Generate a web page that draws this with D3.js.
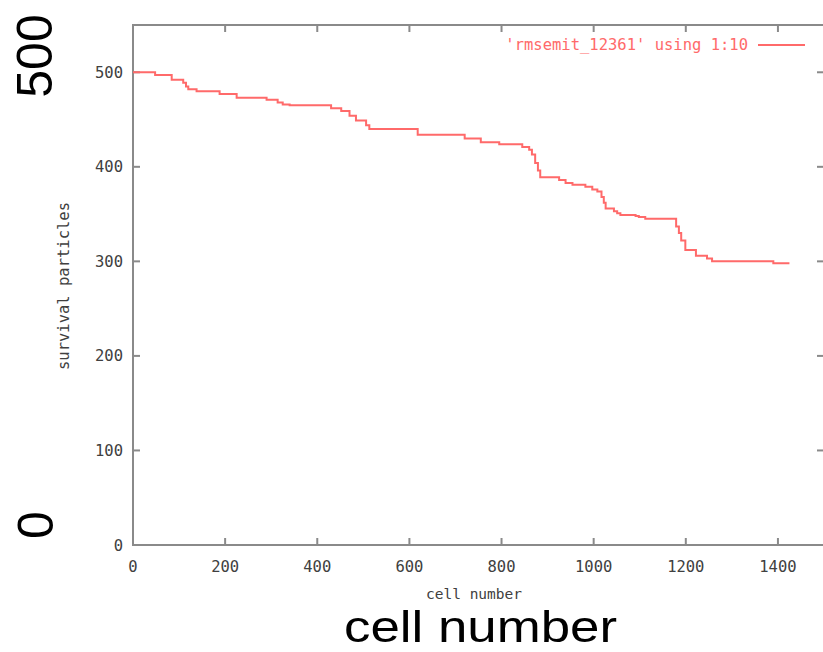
<!DOCTYPE html>
<html>
<head>
<meta charset="utf-8">
<script src="https://cdn.jsdelivr.net/npm/d3@7"></script>
<style>
  body { margin: 0; background: #fff; }
  svg { display: block; }
</style>
</head>
<body>
<div id="chart"></div>
<script>
// survival particles vs cell number (step data, value holds until next cell)
var cells = [0, 48, 84, 109, 115, 120, 138, 188, 225, 290, 314, 325, 340, 430, 452, 470, 484, 506, 513,
  618, 720, 755, 795, 845, 860, 866, 873, 879, 884, 925, 939, 954, 982, 997, 1008, 1017, 1022, 1026,
  1044, 1051, 1058, 1091, 1098, 1112, 1179, 1185, 1190, 1199, 1222, 1246, 1257, 1390, 1425];
var particles = [500, 497, 492, 489, 485, 482, 480, 477, 473, 471, 468, 466, 465, 462, 459, 454, 449, 444, 440,
  434, 430, 426, 424, 421, 418, 413, 404, 396, 389, 386, 383, 381, 379, 376, 374, 368, 362, 356,
  353, 351, 349, 348, 347, 345, 337, 330, 322, 312, 306, 303, 300, 298, 298];
var xTicks = [0, 200, 400, 600, 800, 1000, 1200, 1400];
var yTicks = [0, 100, 200, 300, 400, 500];
var legendLabel = "'rmsemit_12361' using 1:10";

var W = 823, H = 652;
var margin = { top: 25, right: -1, bottom: 107, left: 133 },
    width = W - margin.left - margin.right,
    height = H - margin.top - margin.bottom;

var x = d3.scaleLinear().domain([0, 1500]).range([0, width]);
var y = d3.scaleLinear().domain([0, 550]).range([height, 0]);

var svg = d3.select("#chart").append("svg")
    .attr("width", W)
    .attr("height", H);

var g = svg.append("g")
    .attr("transform", "translate(" + margin.left + "," + margin.top + ")");

var mono = "'DejaVu Sans Mono', 'Liberation Mono', monospace";
var frameColor = "#8a8a8a";
var textColor = "#404040";
var lineColor = "#ff6a6a";

// ticks mirrored on all four sides, pointing inward
var tk = 7;
g.append("g").selectAll("line").data(xTicks).enter().append("line")
    .attr("x1", function (d) { return x(d); }).attr("x2", function (d) { return x(d); })
    .attr("y1", height).attr("y2", height - tk)
    .attr("stroke", frameColor).attr("stroke-width", 2);
g.append("g").selectAll("line").data(xTicks).enter().append("line")
    .attr("x1", function (d) { return x(d); }).attr("x2", function (d) { return x(d); })
    .attr("y1", 0).attr("y2", tk)
    .attr("stroke", frameColor).attr("stroke-width", 2);
g.append("g").selectAll("line").data(yTicks).enter().append("line")
    .attr("x1", 0).attr("x2", tk)
    .attr("y1", function (d) { return y(d); }).attr("y2", function (d) { return y(d); })
    .attr("stroke", frameColor).attr("stroke-width", 2);
g.append("g").selectAll("line").data(yTicks).enter().append("line")
    .attr("x1", width).attr("x2", width - tk)
    .attr("y1", function (d) { return y(d); }).attr("y2", function (d) { return y(d); })
    .attr("stroke", frameColor).attr("stroke-width", 2);

// frame
g.append("rect")
    .attr("x", 0).attr("y", 0)
    .attr("width", width).attr("height", height)
    .attr("fill", "none")
    .attr("stroke", frameColor)
    .attr("stroke-width", 2);

// tick labels
g.append("g").selectAll("text").data(xTicks).enter().append("text")
    .attr("x", function (d) { return x(d); })
    .attr("y", height + 27)
    .attr("text-anchor", "middle")
    .style("font-family", mono).style("font-size", "15.5px").style("fill", textColor)
    .text(function (d) { return d; });
g.append("g").selectAll("text").data(yTicks).enter().append("text")
    .attr("x", -10)
    .attr("y", function (d) { return y(d) + 5.5; })
    .attr("text-anchor", "end")
    .style("font-family", mono).style("font-size", "15.5px").style("fill", textColor)
    .text(function (d) { return d; });

// axis titles
g.append("text")
    .attr("x", 341)
    .attr("y", height + 54)
    .attr("text-anchor", "middle")
    .style("font-family", mono).style("font-size", "14.5px").style("fill", textColor)
    .text("cell number");
g.append("text")
    .attr("transform", "rotate(-90)")
    .attr("x", -261)
    .attr("y", -64)
    .attr("text-anchor", "middle")
    .style("font-family", mono).style("font-size", "15.5px").style("fill", textColor)
    .text("survival particles");

// data line
var line = d3.line()
    .x(function (d) { return x(d[0]); })
    .y(function (d) { return y(d[1]); })
    .curve(d3.curveStepAfter);
g.append("path")
    .datum(d3.zip(cells, particles))
    .attr("fill", "none")
    .attr("stroke", lineColor)
    .attr("stroke-width", 2)
    .attr("d", line);

// key
g.append("text")
    .attr("x", 615)
    .attr("y", 25)
    .attr("text-anchor", "end")
    .style("font-family", mono).style("font-size", "15.5px").style("fill", lineColor)
    .text(legendLabel);
g.append("line")
    .attr("x1", 625).attr("x2", 672)
    .attr("y1", 20).attr("y2", 20)
    .attr("stroke", lineColor).attr("stroke-width", 2);

// large overlay annotations
var sans = "'Liberation Sans', Arial, sans-serif";
svg.append("text")
    .attr("transform", "translate(52,56) rotate(-90)")
    .attr("text-anchor", "middle")
    .style("font-family", sans).style("font-size", "50px").style("fill", "#000")
    .text("500");
svg.append("text")
    .attr("transform", "translate(53,525) rotate(-90)")
    .attr("text-anchor", "middle")
    .style("font-family", sans).style("font-size", "50px").style("fill", "#000")
    .text("0");
svg.append("text")
    .attr("x", 344)
    .attr("y", 642)
    .attr("textLength", 273)
    .attr("lengthAdjust", "spacingAndGlyphs")
    .style("font-family", sans).style("font-size", "44px").style("fill", "#000")
    .text("cell number");
</script>
</body>
</html>
